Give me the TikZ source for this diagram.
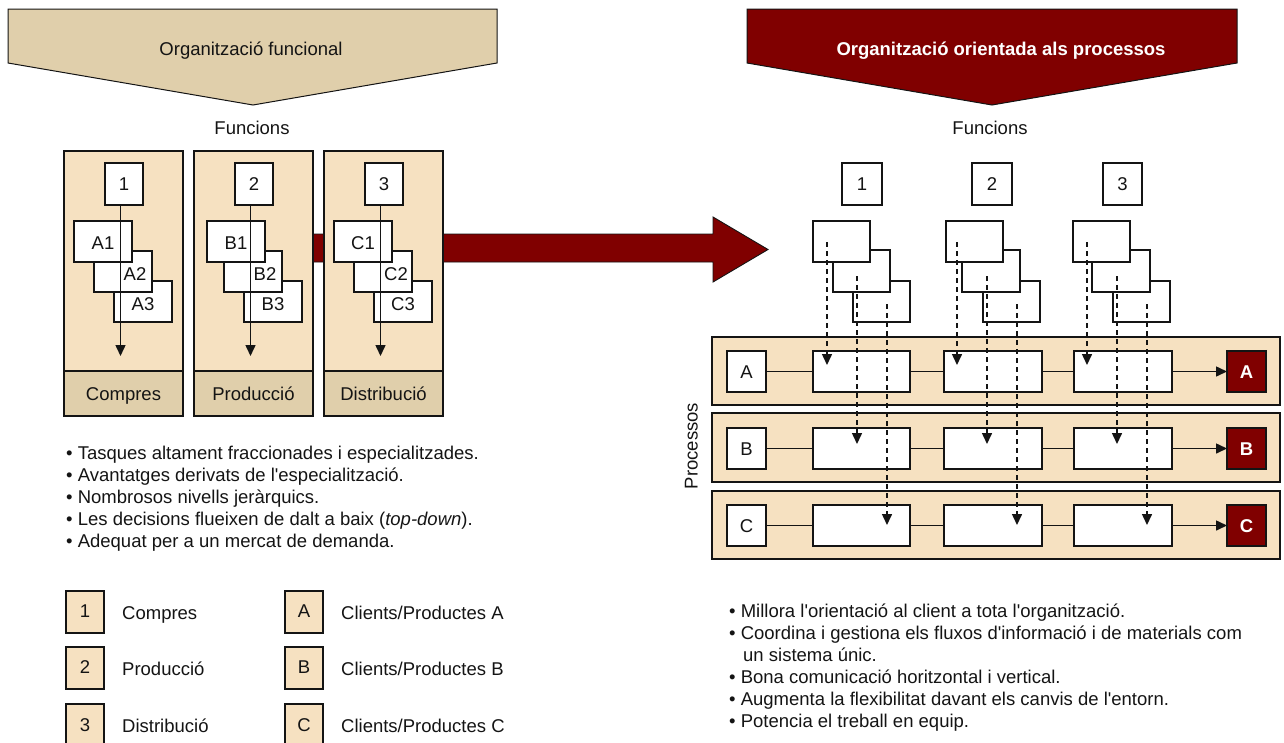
\documentclass[tikz,border=0pt]{standalone}
\usepackage{fontspec}
\setmainfont{Liberation Sans}[Ligatures=TeXOff]
\usetikzlibrary{arrows.meta}

\definecolor{bannertan}{RGB}{224,207,171}
\definecolor{paletan}{RGB}{246,225,193}
\definecolor{procred}{RGB}{128,0,0}
\definecolor{ink}{RGB}{20,20,20}

% rectangle node given by its two corners: style, x1, y1, x2, y2, name
\newcommand\rectnode[6]{%
  \node[#1, anchor=north west, minimum width={#4-#2}, minimum height={#5-#3}] (#6) at (#2,#3) {};}

\begin{document}
\begin{tikzpicture}[x=1pt, y=-1pt,
  font=\fontsize{18.5}{22}\selectfont, color=ink,
  frame/.style={draw=ink, line width=1.5pt, inner sep=0pt, outer sep=0pt},
  wbox/.style={frame, fill=white},
  pbox/.style={frame, fill=paletan},
  dbox/.style={frame, fill=bannertan},
  rbox/.style={frame, fill=procred},
  lab/.style={inner sep=0pt, text height=13.3pt, text depth=0pt},
  line/.style={inner sep=0pt, anchor=base west},
  link/.style={draw=ink, line width=1.5pt},
  flow/.style={draw=ink, line width=1.5pt, -{Triangle[length=11pt,width=10pt]}},
  feed/.style={draw=ink, line width=1.5pt, dash pattern=on 5pt off 4pt,
               -{Triangle[length=11pt,width=10pt]}}]
\useasboundingbox (0,0) rectangle (1284,742);

% ---- banners ----
\filldraw[fill=bannertan, draw=ink, line width=1pt]
  (8,9) -- (497,9) -- (497,63) -- (253,105) -- (8,63) -- cycle;
\node[lab] (tfunc) at (251,49) {Organització funcional};
\filldraw[fill=procred, draw=ink, line width=1pt]
  (747,9) -- (1237,9) -- (1237,63) -- (992,105) -- (747,63) -- cycle;
\node[lab, text=white, font=\fontsize{18.5}{22}\selectfont\bfseries] (tproc) at (1001,49)
  {Organització orientada als processos};

\node[lab] (fl) at (252,128) {Funcions};
\node[lab] (fr) at (990,128) {Funcions};

% ---- transition arrow ----
\filldraw[fill=procred, draw=ink, line width=0.9pt]
  (262,234) -- (713,234) -- (713,217) -- (768,249.5) -- (713,282) -- (713,262) -- (262,262) -- cycle;

% ---- functional columns ----
\rectnode{pbox}{64}{151}{183}{371}{col1}
\rectnode{dbox}{64}{371}{183}{416}{foot1}
\rectnode{pbox}{194}{151}{313}{371}{col2}
\rectnode{dbox}{194}{371}{313}{416}{foot2}
\rectnode{pbox}{324}{151}{443}{371}{col3}
\rectnode{dbox}{324}{371}{443}{416}{foot3}
\node[lab] (lc1) at (foot1) {Compres};
\node[lab] (lc2) at (foot2) {Producció};
\node[lab] (lc3) at (foot3) {Distribució};

\rectnode{wbox}{105}{163}{143}{205}{n1}
\rectnode{wbox}{235}{163}{273}{205}{n2}
\rectnode{wbox}{365}{163}{403}{205}{n3}
\node[lab] at (n1) {1};
\node[lab] at (n2) {2};
\node[lab] at (n3) {3};

\rectnode{wbox}{114}{281}{172}{322}{a3}
\rectnode{wbox}{94}{251}{152}{292}{a2}
\rectnode{wbox}{74}{221}{132}{262}{a1}
\rectnode{wbox}{244}{281}{302}{322}{b3}
\rectnode{wbox}{224}{251}{282}{292}{b2}
\rectnode{wbox}{207}{221}{265}{262}{b1}
\rectnode{wbox}{374}{281}{432}{322}{c3}
\rectnode{wbox}{354}{251}{412}{292}{c2}
\rectnode{wbox}{334}{221}{392}{262}{c1}
\node[lab] (la1) at (103,243) {A1};
\node[lab] (la2) at (135,274) {A2};
\node[lab] (la3) at (143,304) {A3};
\node[lab] (lb1) at (236,243) {B1};
\node[lab] (lb2) at (265,274) {B2};
\node[lab] (lb3) at (273,304) {B3};
\node[lab] (lcc1) at (363,243) {C1};
\node[lab] (lcc2) at (396,274) {C2};
\node[lab] (lcc3) at (403,304) {C3};

\coordinate (e1) at (120.5,356);
\coordinate (e2) at (250.5,356);
\coordinate (e3) at (380.5,356);
\draw[flow] ([xshift=-3.5pt]n1.south) -- (e1);
\draw[flow] ([xshift=-3.5pt]n2.south) -- (e2);
\draw[flow] ([xshift=-3.5pt]n3.south) -- (e3);

% ---- process organisation: functions ----
\rectnode{wbox}{842}{163}{882}{205}{m1}
\rectnode{wbox}{972}{163}{1012}{205}{m2}
\rectnode{wbox}{1103}{163}{1142}{205}{m3}
\node[lab] at (m1) {1};
\node[lab] at (m2) {2};
\node[lab] at (m3) {3};

\rectnode{wbox}{853}{281}{910}{322}{f13}
\rectnode{wbox}{833}{250}{890}{292}{f12}
\rectnode{wbox}{813}{221}{870}{262}{f11}
\rectnode{wbox}{983}{281}{1040}{322}{f23}
\rectnode{wbox}{962}{250}{1020}{292}{f22}
\rectnode{wbox}{946}{221}{1003}{262}{f21}
\rectnode{wbox}{1113}{281}{1170}{322}{f33}
\rectnode{wbox}{1092}{250}{1150}{292}{f32}
\rectnode{wbox}{1073}{221}{1130}{262}{f31}

% ---- process rows ----
\rectnode{pbox}{712}{337}{1280}{405}{rowA}
\rectnode{pbox}{712}{413}{1280}{482}{rowB}
\rectnode{pbox}{712}{491}{1280}{559}{rowC}
\node[lab, rotate=90] (proc) at (691,446) {Processos};

\foreach \r/\y in {A/351, B/428, C/505}{
  \pgfmathsetmacro\yb{\y+41}
  \rectnode{wbox}{727}{\y}{766}{\yb}{k\r}
  \rectnode{wbox}{813}{\y}{910}{\yb}{p\r1}
  \rectnode{wbox}{944}{\y}{1042}{\yb}{p\r2}
  \rectnode{wbox}{1074}{\y}{1172}{\yb}{p\r3}
  \rectnode{rbox}{1227}{\y}{1266}{\yb}{q\r}
  \node[lab] at (k\r) {\r};
  \node[lab, text=white, font=\fontsize{18.5}{22}\selectfont\bfseries] at (q\r) {\r};
  \draw[link] (k\r.east) -- (p\r1.west);
  \draw[link] (p\r1.east) -- (p\r2.west);
  \draw[link] (p\r2.east) -- (p\r3.west);
  \draw[flow] (p\r3.east) -- (q\r.west);
}

% ---- information flows from each function into each process ----
\foreach \j/\bx in {1/827, 2/957, 3/1087}{
  \foreach \k/\sy/\ty in {0/242/365, 1/276/444, 2/304/525}{
    \pgfmathsetmacro\xx{\bx+30*\k}
    \coordinate (s\j\k) at (\xx,\sy);
    \coordinate (t\j\k) at (\xx,\ty);
    \draw[feed] (s\j\k) -- (t\j\k);
  }
}

% ---- characteristics ----
\node[line] (l1) at (66,459) {• Tasques altament fraccionades i especialitzades.};
\node[line] (l2) at (66,481) {• Avantatges derivats de l'especialització.};
\node[line] (l3) at (66,503) {• Nombrosos nivells jeràrquics.};
\node[line] (l4) at (66,525) {• Les decisions flueixen de dalt a baix (\textit{top-down}).};
\node[line] (l5) at (66,547) {• Adequat per a un mercat de demanda.};

\node[line] (r1) at (729,617) {• Millora l'orientació al client a tota l'organització.};
\node[line] (r2) at (729,639) {• Coordina i gestiona els fluxos d'informació i de materials com};
\node[line] (r3) at (743,661) {un sistema únic.};
\node[line] (r4) at (729,683) {• Bona comunicació horitzontal i vertical.};
\node[line] (r5) at (729,705) {• Augmenta la flexibilitat davant els canvis de l'entorn.};
\node[line] (r6) at (729,727) {• Potencia el treball en equip.};

% ---- legend ----
\rectnode{pbox}{66}{591}{104}{633}{g1}
\rectnode{pbox}{66}{647}{104}{689}{g2}
\rectnode{pbox}{66}{704}{104}{746}{g3}
\rectnode{pbox}{285}{591}{323}{633}{gA}
\rectnode{pbox}{285}{647}{323}{689}{gB}
\rectnode{pbox}{285}{704}{323}{746}{gC}
\node[lab] at (85,611) {1};
\node[lab] at (85,667) {2};
\node[lab] at (85,725) {3};
\node[lab] at (304,611) {A};
\node[lab] at (304,667) {B};
\node[lab] at (304,725) {C};
\node[line] (d1) at (122,619) {Compres};
\node[line] (d2) at (122,675) {Producció};
\node[line] (d3) at (122,732) {Distribució};
\node[line] (dA) at (341,619) {Clients/Productes A};
\node[line] (dB) at (341,675) {Clients/Productes B};
\node[line] (dC) at (341,732) {Clients/Productes C};
\end{tikzpicture}
\end{document}
